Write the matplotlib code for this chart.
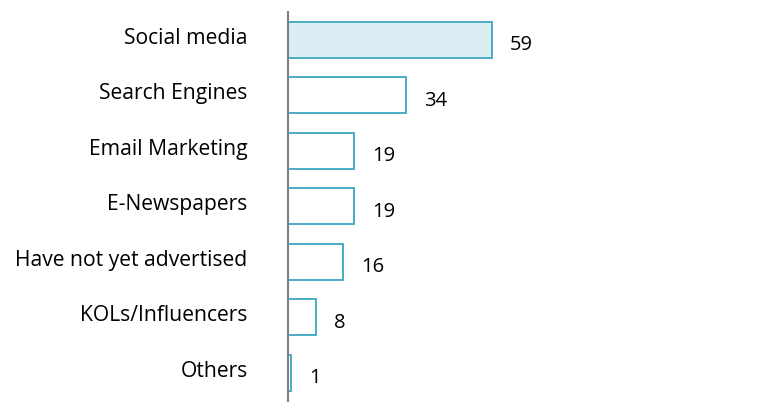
import matplotlib.pyplot as plt
from matplotlib import transforms

plt.rcParams['font.family'] = ['Open Sans', 'DejaVu Sans']

categories = ["Social media", "Search Engines", "Email Marketing", "E-Newspapers",
              "Have not yet advertised", "KOLs/Influencers", "Others"]
values = [59, 34, 19, 19, 16, 8, 1]
fills = ["#DAEEF3", "white", "white", "white", "white", "white", "white"]

W, H = 765, 416
fig = plt.figure(figsize=(W / 100, H / 100), dpi=100)
ax = fig.add_axes([288 / W, 15.5 / H, (W - 288) / W, 388.5 / H])

ypos = list(range(len(categories)))
ax.barh(ypos, values, height=0.65, color=fills, edgecolor="#4BACC6", linewidth=1.4)

ax.set_xlim(0, (W - 288) / 3.458)
ax.set_ylim(len(categories) - 0.5, -0.5)

for y, v in zip(ypos, values):
    ax.annotate(str(v), (v, y), xytext=(13, -4), textcoords="offset points",
                ha="left", va="center", fontsize=14.5, color="black")

ax.set_yticks(ypos)
ax.set_yticklabels(categories, fontsize=15.2)
ax.tick_params(axis="y", length=0, pad=29)
shift = transforms.ScaledTranslation(0, 4 / 100, fig.dpi_scale_trans)
for lab in ax.get_yticklabels():
    lab.set_transform(lab.get_transform() + shift)
ax.set_xticks([])

for s in ["top", "right", "bottom"]:
    ax.spines[s].set_visible(False)
ax.spines["left"].set_color("#808080")
ax.spines["left"].set_linewidth(1.5)

fig.savefig("out.png", dpi=100)
